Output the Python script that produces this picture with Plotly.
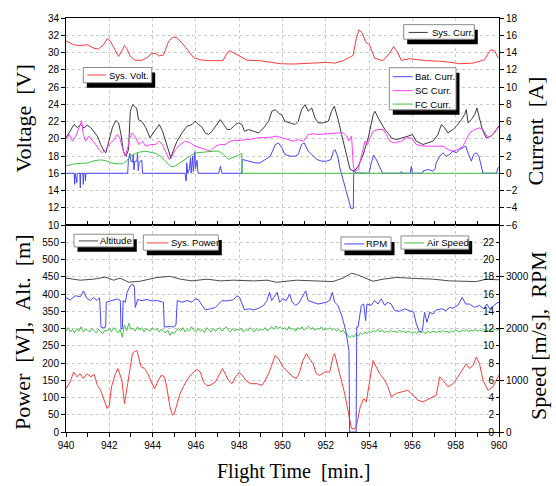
import numpy as np
import plotly.graph_objects as go

# ---------------- Upper panel: voltage / current ----------------
volt_t = [940.0, 940.35, 940.66, 941.0, 941.28, 941.5, 941.74, 941.9, 942.05, 942.28, 942.43,
          942.6, 942.7, 942.8, 942.97, 943.2, 943.5, 943.74, 943.97, 944.13, 944.28, 944.5,
          944.74, 944.94, 945.13, 945.36, 945.67, 945.9, 946.2, 946.67, 947.25, 947.44, 947.57,
          947.75, 948.05, 948.36, 948.98, 949.44, 949.9, 950.49, 951.25, 952.02, 952.41, 952.8,
          953.26, 953.41, 953.53, 953.69, 953.84, 954.02, 954.25, 954.64, 954.95, 955.13, 955.29,
          955.49, 955.87, 956.64, 957.41, 958.18, 958.8, 959.33, 959.61, 959.8, 959.95, 960.0]
volt_v = [31.36, 30.9, 30.8, 30.9, 30.5, 30.4, 30.9, 31.6, 31.3, 30.3, 29.55,
          30.3, 30.8, 30.5, 29.55, 29.1, 29.1, 29.4, 29.9, 29.9, 29.6, 29.7,
          31.3, 31.8, 31.7, 31.1, 30.1, 29.4, 29.15, 29.05, 29.05, 29.95, 30.2,
          29.95, 29.45, 29.1, 29.05, 28.9, 28.7, 28.66, 28.77, 28.85, 28.77, 29.05,
          29.66, 31.66, 32.63, 32.25, 31.2, 30.9, 29.35, 29.05, 29.93, 30.7, 30.13,
          29.08, 29.28, 29.05, 28.97, 28.7, 28.77, 29.16, 30.32, 30.2, 29.43, 29.3]

sys_curr_t = [940.0, 940.15, 940.37, 940.52, 940.68, 940.83, 940.98, 941.14, 941.29, 941.45, 941.6,
              941.76, 941.84, 941.99, 942.14, 942.3, 942.43, 942.54, 942.65, 942.77, 942.89, 942.97,
              943.08, 943.15, 943.26, 943.35, 943.51, 943.69, 943.88, 944.08, 944.31, 944.46, 944.69,
              944.84, 944.97, 945.13, 945.36, 945.59, 945.82, 945.97, 946.13, 946.28, 946.43, 946.59,
              946.74, 946.97, 947.13, 947.28, 947.44, 947.59, 947.82, 947.97, 948.13, 948.24, 948.44,
              948.67, 948.9, 949.13, 949.36, 949.51, 949.67, 949.85, 949.96, 950.11, 950.35, 950.58,
              950.73, 950.88, 951.04, 951.19, 951.35, 951.5, 951.65, 951.89, 952.12, 952.27, 952.39,
              952.55, 952.73, 952.96, 953.12, 953.32, 953.5, 953.73, 953.96, 954.19, 954.27, 954.42,
              954.58, 954.73, 954.9, 955.03, 955.26, 955.57, 955.8, 956.0, 956.18, 956.49, 956.72,
              956.95, 957.18, 957.34, 957.49, 957.64, 957.87, 958.1, 958.26, 958.41, 958.49, 958.57,
              958.72, 958.88, 958.98, 959.07, 959.23, 959.41, 959.64, 959.88, 960.0]
sys_curr = [4.1, 4.68, 5.65, 5.3, 5.65, 5.26, 5.57, 5.3, 4.87, 4.3, 3.33,
            2.56, 2.37, 3.7, 5.26, 6.1, 5.84, 4.5, 2.56, 1.98, 2.75, 7.2,
            7.96, 7.77, 7.57, 6.2, 6.0, 5.26, 4.1, 4.87, 5.65, 4.87, 2.95,
            1.8, 2.75, 3.72, 4.68, 5.45, 5.65, 6.03, 5.65, 5.34, 4.68, 4.49,
            4.87, 5.65, 6.22, 5.65, 5.07, 5.07, 5.65, 5.84, 5.65, 4.87, 5.07,
            4.87, 4.68, 5.26, 6.03, 7.19, 7.38, 6.9, 6.8, 6.03, 5.84, 5.65,
            6.03, 7.38, 7.96, 7.19, 7.57, 6.42, 5.84, 5.84, 6.03, 7.19, 7.77,
            6.42, 4.49, 2.18, 0.44, 0.25, 0.83, 2.18, 4.1, 6.8, 7.19, 6.42,
            5.65, 5.07, 4.6, 4.1, 3.9, 4.1, 4.3, 4.49, 3.72, 3.33, 3.52,
            3.72, 4.49, 5.65, 5.26, 4.68, 5.07, 5.65, 6.22, 6.8, 7.38, 5.84,
            6.22, 6.8, 7.57, 6.61, 5.07, 4.1, 4.3, 5.07, 5.5]

sc_curr_t = [940.0, 940.15, 940.3, 940.45, 940.6, 940.72, 940.8, 940.9, 941.06, 941.2, 941.37,
             941.52, 941.68, 941.84, 941.99, 942.22, 942.37, 942.48, 942.6, 942.72, 942.83, 942.95,
             943.06, 943.22, 943.37, 943.53, 943.68, 943.91, 944.14, 944.3, 944.45, 944.6, 944.76,
             944.85, 945.05, 945.28, 945.51, 945.74, 945.97, 946.2, 946.43, 946.67, 946.9, 947.13,
             947.36, 947.59, 947.82, 948.05, 948.28, 948.51, 948.82, 949.13, 949.44, 949.74, 950.04,
             950.27, 950.5, 950.73, 950.96, 951.19, 951.42, 951.65, 951.96, 952.27, 952.58, 952.81,
             952.96, 953.07, 953.19, 953.27, 953.35, 953.5, 953.66, 953.81, 953.93, 954.04, 954.19,
             954.42, 954.65, 954.8, 954.95, 955.18, 955.49, 955.72, 955.95, 956.18, 956.49, 956.8,
             957.1, 957.41, 957.64, 957.87, 958.1, 958.33, 958.49, 958.64, 958.88, 959.1, 959.26,
             959.49, 959.72, 959.95, 960.0]
sc_curr = [3.9, 4.5, 3.7, 4.3, 5.26, 6.1, 4.5, 3.7, 4.3, 3.9, 3.33,
           2.75, 2.37, 2.75, 3.33, 3.9, 4.5, 4.1, 2.95, 1.98, 2.75, 4.1,
           4.68, 4.1, 3.33, 3.72, 3.14, 3.33, 3.33, 3.72, 3.33, 2.56, 1.6,
           1.75, 2.75, 3.33, 3.72, 3.52, 3.14, 2.95, 2.75, 2.56, 3.14, 3.33,
           3.33, 3.72, 3.8, 3.8, 3.9, 3.9, 4.1, 4.1, 4.18, 4.3, 4.1,
           3.9, 3.72, 3.9, 3.72, 4.49, 4.57, 4.49, 4.57, 4.68, 4.68, 4.68,
           4.3, 3.72, 4.3, 0.83, 0.25, 0.44, 2.18, 3.72, 3.33, 4.1, 4.87,
           5.07, 5.07, 4.49, 3.72, 3.52, 3.72, 4.1, 4.1, 3.33, 3.14, 3.14,
           3.14, 3.14, 2.75, 2.56, 2.75, 3.14, 3.9, 4.68, 5.07, 5.26, 5.07,
           4.1, 4.49, 5.34, 5.4]

fc_curr_t = [940.0, 940.3, 940.7, 941.0, 941.3, 941.6, 941.85, 942.1, 942.35, 942.6, 942.75,
             942.95, 943.15, 943.4, 943.7, 943.95, 944.15, 944.4, 944.65, 944.85, 945.05, 945.3,
             945.55, 945.8, 946.05, 946.36, 946.82, 947.05, 947.28, 947.51, 947.67, 947.9, 948.12,
             948.14, 960.0]
fc_curr = [0.85, 1.05, 1.15, 1.2, 1.45, 1.55, 1.45, 1.2, 1.1, 1.1, 1.3,
           1.9, 2.25, 2.45, 2.55, 2.45, 2.3, 1.9, 1.2, 0.75, 0.85, 1.3,
           1.75, 2.1, 2.37, 2.48, 2.56, 2.56, 2.18, 1.6, 1.8, 1.98, 2.3,
           0.0, 0.0]

bat_curr_t = [940.0, 940.38, 940.4, 940.42, 940.5, 940.52, 940.64, 940.66, 940.68, 940.78, 940.8,
              940.82, 940.88, 940.9, 940.92, 942.85, 942.88, 942.95, 943.0, 943.08, 943.1, 943.14,
              943.18, 943.28, 943.3, 943.34, 943.38, 943.5, 943.54, 945.5, 945.55, 945.58, 945.62,
              945.7, 945.75, 945.78, 945.85, 945.88, 945.95, 945.98, 946.05, 946.1, 947.05, 947.13,
              947.2, 948.12, 948.14, 948.51, 948.74, 948.97, 949.2, 949.44, 949.67, 949.82, 949.97,
              950.11, 950.35, 950.58, 950.73, 950.88, 951.0, 951.19, 951.35, 951.58, 951.81, 952.04,
              952.24, 952.35, 952.42, 952.55, 952.65, 952.81, 952.96, 953.07, 953.16, 953.27, 953.29,
              953.4, 954.0, 954.1, 954.21, 954.33, 954.49, 954.62, 955.45, 955.49, 955.55, 955.9,
              955.95, 956.0, 956.45, 956.49, 956.72, 956.95, 957.05, 957.1, 957.26, 957.41, 957.57,
              957.72, 957.87, 958.03, 958.18, 958.33, 958.46, 958.57, 958.72, 958.83, 958.95, 959.07,
              959.18, 959.26, 959.88, 959.95, 960.0]
bat_curr = [0.0, 0.0, -1.3, 0.0, -1.1, 0.0, 0.0, -1.7, 0.0, 0.0, -1.3,
            0.0, 0.0, -0.9, 0.0, 0.0, 1.5, 2.3, 1.4, 1.3, 2.2, 0.4,
            1.4, 1.4, 2.3, 0.3, 1.3, 1.5, 0.0, 0.0, -0.9, 1.2, 0.0,
            0.5, 1.8, 0.0, 2.0, 0.2, 2.5, 0.5, 1.5, 0.0, 0.0, 0.8,
            0.0, 0.0, 1.6, 1.4, 1.2, 1.2, 1.6, 2.0, 3.33, 3.5, 2.95,
            2.18, 1.98, 1.98, 2.18, 3.33, 3.52, 2.56, 2.18, 1.6, 1.4, 1.4,
            1.6, 2.56, 2.75, 1.98, 0.63, -0.9, -2.07, -3.22, -4.07, -4.07, 0.3,
            0.05, 0.0, 1.2, 2.1, 1.6, 0.6, 0.0, 0.0, 0.2, 0.0, 0.0,
            0.8, 0.0, 0.0, 0.25, 0.44, 0.25, 0.5, 1.2, 1.98, 2.37, 1.98,
            2.18, 2.56, 2.37, 2.75, 2.95, 3.14, 2.37, 1.4, 2.18, 2.37, 1.98,
            0.63, 0.0, 0.0, 0.6, 0.7]

# ---------------- Lower panel: power / altitude / speed / rpm ----------------
alt_t = [940.0, 940.66, 941.28, 941.82, 942.2, 942.5, 942.9, 943.43, 944.2, 944.82, 945.28,
         945.82, 946.51, 947.13, 947.74, 948.66, 949.28, 949.74, 950.64, 951.56, 952.33, 952.79,
         953.18, 953.41, 953.79, 954.18, 954.64, 955.26, 956.18, 956.95, 957.72, 958.34, 958.95,
         959.41, 960.0]
altitude = [446, 440, 443, 449, 440, 446, 434, 437, 448, 451, 443,
            438, 443, 438, 440, 438, 440, 434, 440, 437, 436, 446,
            460, 457, 448, 437, 443, 448, 445, 443, 438, 438, 436,
            443, 441]

power_t = [940.0, 940.19, 940.35, 940.5, 940.65, 940.8, 940.97, 941.15, 941.3, 941.45, 941.6,
           941.76, 941.9, 942.0, 942.1, 942.28, 942.4, 942.58, 942.66, 942.7, 942.85, 942.96,
           943.07, 943.16, 943.28, 943.35, 943.47, 943.62, 943.78, 943.93, 944.1, 944.27, 944.4,
           944.55, 944.65, 944.8, 944.92, 945.0, 945.1, 945.27, 945.42, 945.58, 945.82, 946.04,
           946.2, 946.35, 946.5, 946.65, 946.9, 947.12, 947.23, 947.35, 947.5, 947.66, 947.83,
           948.0, 948.15, 948.3, 948.5, 948.82, 949.05, 949.2, 949.36, 949.5, 949.66, 949.82,
           950.02, 950.25, 950.48, 950.64, 950.79, 950.94, 951.1, 951.25, 951.41, 951.56, 951.71,
           951.95, 952.18, 952.33, 952.41, 952.56, 952.71, 952.87, 953.02, 953.18, 953.33, 953.44,
           953.59, 953.75, 953.87, 954.02, 954.18, 954.33, 954.49, 954.72, 954.87, 955.02, 955.26,
           955.49, 955.79, 956.03, 956.26, 956.49, 956.8, 957.1, 957.26, 957.41, 957.64, 957.87,
           958.1, 958.34, 958.49, 958.64, 958.8, 958.95, 959.1, 959.26, 959.49, 959.72, 959.95,
           960.0]
sys_power = [126, 145, 174, 160, 169, 155, 169, 160, 167, 135, 121,
             92, 68, 77, 131, 169, 184, 150, 97, 82, 140, 184,
             228, 233, 236, 218, 189, 184, 169, 145, 126, 150, 165,
             160, 131, 73, 49, 53, 73, 112, 131, 150, 169, 181,
             174, 145, 135, 135, 145, 169, 184, 169, 150, 140, 160,
             172, 164, 150, 140, 140, 135, 150, 169, 193, 222, 212,
             188, 174, 160, 155, 174, 207, 227, 212, 198, 169, 164,
             174, 174, 217, 227, 188, 150, 112, 64, 11, 8, 25,
             73, 97, 87, 140, 207, 188, 169, 150, 131, 102, 112,
             116, 121, 107, 92, 87, 97, 107, 160, 150, 131, 140,
             160, 184, 198, 184, 193, 217, 198, 150, 121, 131, 160,
             165]

rpm_t = [940.0, 940.2, 940.43, 940.66, 940.81, 940.94, 941.12, 941.28, 941.43, 941.55, 941.62,
         941.72, 941.83, 941.86, 942.12, 942.36, 942.51, 942.54, 942.6, 942.64, 942.74, 942.82,
         942.97, 943.1, 943.16, 943.2, 943.31, 943.51, 943.74, 943.97, 944.2, 944.43, 944.5,
         944.54, 944.82, 944.97, 945.08, 945.14, 945.36, 945.59, 945.82, 945.97, 946.13, 946.28,
         946.44, 946.67, 946.9, 947.05, 947.2, 947.36, 947.59, 947.74, 947.9, 948.02, 948.13,
         948.24, 948.44, 948.67, 948.9, 949.13, 949.28, 949.4, 949.5, 949.67, 949.75, 949.87,
         950.02, 950.18, 950.33, 950.45, 950.61, 950.76, 950.91, 951.07, 951.18, 951.41, 951.64,
         951.87, 952.02, 952.18, 952.3, 952.41, 952.56, 952.76, 952.92, 953.07, 953.1, 953.4,
         953.43, 953.49, 953.64, 953.75, 953.84, 953.9, 954.1, 954.25, 954.41, 954.56, 954.72,
         954.87, 955.02, 955.18, 955.41, 955.64, 955.87, 956.06, 956.18, 956.33, 956.46, 956.56,
         956.67, 956.8, 956.95, 957.1, 957.34, 957.56, 957.72, 957.87, 958.1, 958.3, 958.46,
         958.64, 958.87, 959.1, 959.29, 959.44, 959.57, 959.8, 959.95, 960.0]
rpm = [2593, 2553, 2633, 2613, 2727, 2593, 2540, 2600, 2540, 2593, 2027,
       2013, 2027, 2507, 2540, 2573, 2540, 1993, 1993, 2540, 2507, 2700,
       2827, 2853, 2793, 2407, 2560, 2540, 2560, 2533, 2540, 2507, 2507,
       2027, 2040, 2027, 2067, 2540, 2507, 2540, 2507, 2573, 2553, 2447,
       2360, 2380, 2407, 2473, 2540, 2533, 2540, 2560, 2633, 2600, 2473,
       2360, 2380, 2360, 2393, 2447, 2540, 2700, 2540, 2633, 2700, 2507,
       2573, 2540, 2667, 2507, 2447, 2493, 2600, 2727, 2540, 2507, 2473,
       2493, 2507, 2540, 2700, 2507, 2447, 2220, 1960, 1573, 0, 0,
       2027, 2027, 2447, 2473, 2153, 2473, 2447, 2540, 2473, 2573, 2447,
       2507, 2473, 2347, 2333, 2380, 2347, 2313, 2093, 1933, 1960, 2313,
       2120, 2313, 2280, 2360, 2380, 2347, 2407, 2393, 2447, 2600, 2473,
       2473, 2407, 2447, 2380, 2473, 2380, 2447, 2507, 2500]

# air speed logged every 0.1 min
air_speed_t = np.round(np.linspace(940.0, 960.0, 201), 1)
air_speed = [11.7, 12.1, 11.6, 11.9, 11.5, 12.0, 11.7, 12.2, 11.6, 11.9, 11.8,
             11.6, 12.0, 11.7, 11.5, 11.9, 11.6, 11.4, 11.8, 11.7, 12.0,
             11.6, 12.1, 11.8, 11.5, 11.9, 11.0, 12.4, 11.7, 12.6, 11.9,
             12.0, 11.7, 12.2, 11.8, 12.1, 11.6, 12.0, 11.8, 11.7, 12.1,
             11.8, 12.0, 11.6, 11.9, 11.7, 11.5, 11.8, 11.2, 11.6, 11.4,
             11.8, 12.0, 11.7, 12.1, 11.6, 11.9, 11.7, 12.2, 11.8, 11.6,
             12.0, 11.7, 11.9, 11.5, 12.1, 11.8, 11.6, 12.0, 11.7, 11.9,
             12.1, 11.7, 11.9, 12.2, 11.8, 11.6, 12.0, 11.7, 11.9, 11.8,
             12.0, 11.6, 11.9, 11.7, 12.1, 11.8, 11.6, 12.0, 11.7, 11.9,
             11.8, 12.1, 11.7, 12.0, 12.2, 11.9, 12.3, 12.0, 12.2, 11.9,
             12.1, 11.8, 12.2, 11.9, 12.0, 11.7, 12.1, 11.9, 12.2, 11.8,
             12.0, 12.3, 11.9, 12.1, 11.8, 12.0, 11.9, 12.2, 11.8, 12.0,
             11.9, 12.1, 11.8, 12.0, 11.7, 11.9, 11.6, 11.8, 11.4, 11.3,
             10.9, 11.2, 11.0, 11.4, 11.1, 11.5, 11.3, 11.6, 11.4, 11.7,
             11.5, 11.8, 11.6, 11.9, 11.6, 11.8, 11.5, 11.7, 11.6, 11.8,
             11.6, 11.7, 11.5, 11.8, 11.6, 11.7, 11.5, 11.7, 11.6, 11.5,
             11.6, 11.4, 11.7, 11.5, 11.6, 11.4, 11.7, 11.5, 11.6, 11.7,
             11.5, 11.7, 11.6, 11.8, 11.6, 11.7, 11.5, 11.7, 11.6, 11.8,
             11.7, 11.6, 11.8, 11.7, 11.9, 11.6, 11.8, 11.7, 11.9, 11.7,
             11.8, 11.7, 11.9, 11.8, 11.7, 11.9, 11.8, 11.9, 11.8, 11.9]

# ---------------- Styling ----------------
RED = "#ff3b3b"
BLUE = "#4646ff"
MAGENTA = "#ff3cff"
GREEN = "#3fc23f"
DARK = "#3a3a3a"
GRID = "#c9c9c9"
SANS = "Liberation Sans, Arial, sans-serif"
TICK_FONT = dict(family=SANS, size=10, color="black")
LEG_FONT = dict(family=SANS, size=9.5, color="black")
TITLE_FONT = dict(family="Liberation Serif, Times New Roman, serif", size=22, color="black")

W, H = 556, 486
ML, MR, MT, MB = 66, 57, 16, 54
PW, PH = W - ML - MR, H - MT - MB


def fx(px):
    return (px - ML) / PW


def fy(py):
    return (H - MB - py) / PH


fig = go.Figure()


def line(x, y, xa, ya, color, name, width=1.0):
    fig.add_trace(go.Scatter(x=x, y=y, xaxis=xa, yaxis=ya, mode="lines", name=name,
                             line=dict(color=color, width=width), showlegend=False,
                             hoverinfo="skip"))


line(volt_t, volt_v, "x", "y", RED, "Sys. Volt.")
line(sys_curr_t, sys_curr, "x", "y2", DARK, "Sys. Curr.")
line(sc_curr_t, sc_curr, "x", "y2", MAGENTA, "SC Curr.")
line(bat_curr_t, bat_curr, "x", "y2", BLUE, "Bat. Curr.")
line(fc_curr_t, fc_curr, "x", "y2", GREEN, "FC Curr.")

line(alt_t, altitude, "x2", "y3", "#4a4a4a", "Altitude")
line(power_t, sys_power, "x2", "y3", RED, "Sys. Power")
line(air_speed_t, air_speed, "x2", "y4", GREEN, "Air Speed")
line(rpm_t, rpm, "x2", "y5", BLUE, "RPM")

axis_common = dict(showline=True, linecolor="black", linewidth=1, zeroline=False,
                   tickfont=TICK_FONT, ticklen=4, tickcolor="black", tickwidth=1)
grid = dict(showgrid=True, gridcolor=GRID, griddash="dot", gridwidth=1)
X_RANGE = [940, 960]
X_TICKS = list(range(940, 961, 2))

fig.update_layout(
    width=W, height=H,
    margin=dict(l=ML, r=MR, t=MT, b=MB),
    paper_bgcolor="white", plot_bgcolor="white",
    xaxis=dict(domain=[0, 1], anchor="y", range=X_RANGE, tickvals=X_TICKS,
               ticks="inside", showticklabels=False, mirror=True,
               minor=dict(dtick=1, tick0=940, ticks="inside", ticklen=4, tickcolor="black",
                          showgrid=False),
               **grid, **axis_common),
    xaxis2=dict(domain=[0, 1], anchor="y3", range=X_RANGE, tickvals=X_TICKS,
                ticks="outside", mirror=True,
                minor=dict(dtick=1, tick0=940, ticks="outside", ticklen=4, tickcolor="black",
                           showgrid=False),
                **grid, **axis_common),
    yaxis=dict(domain=[0.5, 1], anchor="x", range=[10, 34], dtick=2, tick0=10,
               ticks="outside", mirror=True, **grid, **axis_common),
    yaxis2=dict(overlaying="y", anchor="x", side="right", range=[-6, 18], dtick=2, tick0=-6,
                ticks="outside", showgrid=False, **axis_common),
    yaxis3=dict(domain=[0, 0.5], anchor="x2", range=[0, 600],
                tickvals=list(range(0, 551, 50)), ticks="outside", mirror=True,
                **grid, **axis_common),
    # speed scale sits just inside the right frame, labels facing into the plot
    yaxis4=dict(overlaying="y3", anchor="free", position=1.0, side="left", range=[0, 24],
                tickvals=list(range(0, 23, 2)), ticks="outside", ticklen=3,
                showgrid=False, showline=False, zeroline=False, tickfont=TICK_FONT,
                tickcolor="black", tickwidth=1),
    yaxis5=dict(overlaying="y3", anchor="x2", side="right", range=[0, 4000],
                tickvals=[0, 1000, 2000, 3000], ticks="outside", showgrid=False,
                **axis_common),
)

# ---------------- Axis titles ----------------
NB = "\u00a0"
titles = [
    (f"Voltage{NB}{NB}[V]", 23.5, 117.5, -90),
    (f"Current{NB}{NB}[A]", 535, 130, -90),
    (f"Power{NB}{NB}[W],{NB}{NB}Alt.{NB}{NB}[m]", 22.5, 332, -90),
    (f"Speed{NB}[m/s],{NB}{NB}RPM", 538.5, 335, -90),
]
for text, px, py, ang in titles:
    fig.add_annotation(text=text, x=fx(px), y=fy(py), xref="paper", yref="paper",
                       xanchor="center", yanchor="middle", textangle=ang,
                       showarrow=False, font=TITLE_FONT)
fig.add_annotation(text=f"Flight Time{NB}{NB}[min.]", x=fx(293), y=fy(472),
                   xref="paper", yref="paper", xanchor="center", yanchor="middle",
                   showarrow=False, font=dict(TITLE_FONT, size=20))

# ---------------- Legend boxes with drop shadows ----------------
legends = [
    # box (x0, y0, x1, y1), sample line x-range, text x, entries (y, colour, label)
    ((83.3, 65.7, 151.7, 81.0), (87.3, 106.0), 108.0, [(73.3, RED, "Sys. Volt.")]),
    ((403.7, 22.7, 474.3, 37.3), (408.7, 427.7), 431.0, [(30.5, DARK, "Sys. Curr.")]),
    ((389.3, 66.0, 456.0, 108.3), (392.7, 412.7), 414.0,
     [(75.0, BLUE, "Bat. Curr."), (89.0, MAGENTA, "SC Curr."), (102.5, GREEN, "FC Curr.")]),
    ((74.0, 233.3, 133.3, 246.0), (78.7, 98.3), 99.0, [(240.0, "#4a4a4a", "Altitude")]),
    ((143.3, 234.0, 218.3, 249.3), (146.7, 168.3), 169.5, [(242.0, RED, "Sys. Power")]),
    ((341.0, 236.0, 391.0, 249.3), (344.3, 364.3), 365.0, [(243.0, BLUE, "RPM")]),
    ((401.0, 235.0, 468.7, 248.3), (404.3, 424.3), 425.5, [(242.0, GREEN, "Air Speed")]),
]
SDX, SDY = 3.5, 5.0
for (x0, y0, x1, y1), (lx0, lx1), tx, entries in legends:
    fig.add_shape(type="rect", xref="paper", yref="paper",
                  x0=fx(x0 + SDX), x1=fx(x1 + SDX), y0=fy(y0 + SDY), y1=fy(y1 + SDY),
                  fillcolor="black", line=dict(width=0), layer="above")
    fig.add_shape(type="rect", xref="paper", yref="paper",
                  x0=fx(x0), x1=fx(x1), y0=fy(y0), y1=fy(y1),
                  fillcolor="white", line=dict(color="#8a8a8a", width=1), layer="above")
    for ey, col, label in entries:
        fig.add_shape(type="line", xref="paper", yref="paper",
                      x0=fx(lx0), x1=fx(lx1), y0=fy(ey), y1=fy(ey),
                      line=dict(color=col, width=1), layer="above")
        fig.add_annotation(text=label, x=fx(tx), y=fy(ey), xref="paper", yref="paper",
                           xanchor="left", yanchor="middle", showarrow=False,
                           font=LEG_FONT, borderpad=0)

fig.write_html("out.html")
